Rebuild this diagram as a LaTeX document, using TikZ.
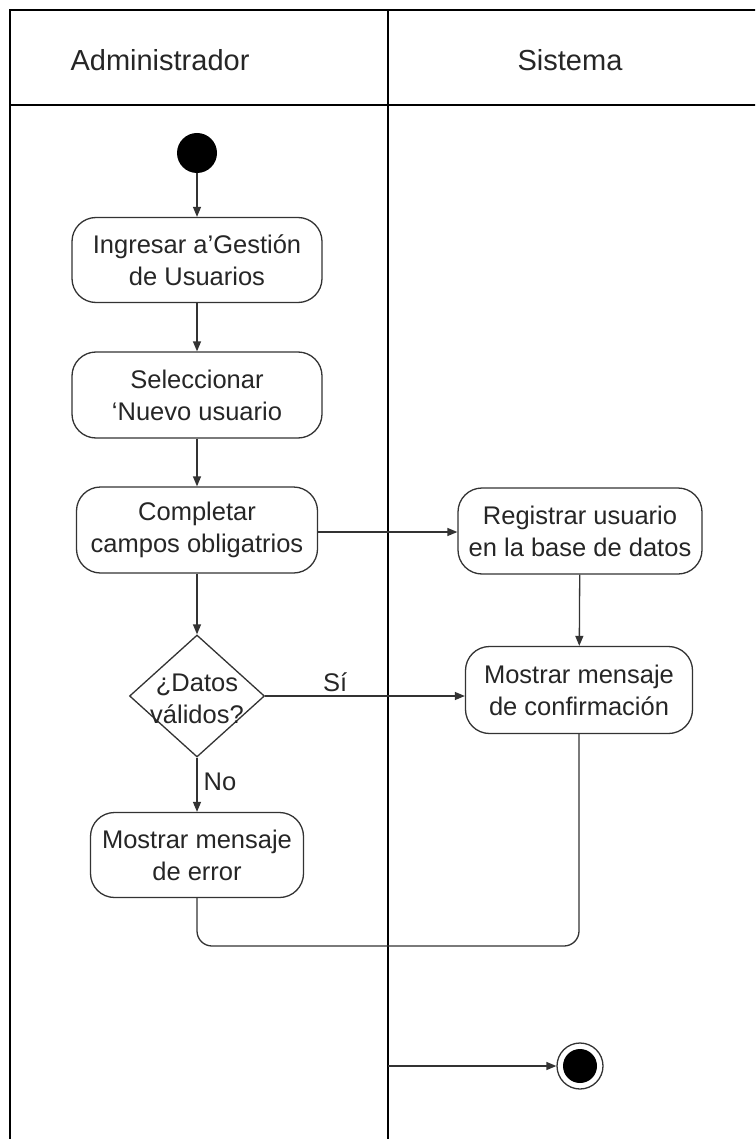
\documentclass[tikz,border=0pt]{standalone}
\usepackage{fontspec}
\setmainfont{Liberation Sans}
\usetikzlibrary{arrows.meta,shapes.geometric}
\definecolor{ln}{HTML}{333333}
\begin{document}
\begin{tikzpicture}[x=1pt,y=-1pt,
  act/.style={draw=ln,line width=1.3pt,rounded corners=24pt,align=center,inner sep=0pt,
    font=\fontsize{25.5}{32}\selectfont,text=black!85},
  lbl/.style={font=\fontsize{25.5}{32}\selectfont,text=black!85,align=center,inner sep=0pt},
  hdr/.style={font=\fontsize{29}{34}\selectfont,text=black!85},
  flow/.style={draw=ln,line width=1.3pt,-{Triangle[length=10pt,width=8pt]}},
  lane/.style={draw=black,line width=1.6pt}]
\useasboundingbox (0,0) rectangle (755,1139);
\fill[white] (0,0) rectangle (755,1139);
\begin{scope}
\clip (0,0) rectangle (755,1139);
\draw[lane] (10,1160) -- (10,10) -- (770,10);
\draw[lane] (10,105) -- (770,105);
\draw[lane] (388,10) -- (388,1160);
\end{scope}
\node[hdr] (h1) at (160,60) {Administrador};
\node[hdr] (h2) at (570,60) {Sistema};
% nodes
\node[circle,fill=black,minimum size=40pt,inner sep=0pt] (start) at (197,153) {};
\node[act,minimum width=250pt,minimum height=85pt] (b1) at (197,260) {Ingresar a'Gestión\\de Usuarios};
\node[act,minimum width=250pt,minimum height=86pt] (b2) at (197,395) {Seleccionar\\`Nuevo usuario};
\node[act,minimum width=241pt,minimum height=86pt] (b3) at (197,530) {Completar\\campos obligatrios};
\node[act,minimum width=244pt,minimum height=86pt] (b4) at (580,531) {Registrar usuario\\en la base de datos};
\node[diamond,draw=ln,line width=1.3pt,minimum width=135pt,minimum height=122pt,inner sep=0pt] (d) at (197,696) {};
\node[lbl] (dt) at (197,699) {¿Datos\\válidos?};
\node[act,minimum width=227pt,minimum height=87pt] (b5) at (579,690) {Mostrar mensaje\\de confirmación};
\node[act,minimum width=213pt,minimum height=85pt] (b6) at (197,855) {Mostrar mensaje\\de error};
\node[circle,draw=ln,line width=1.3pt,minimum size=46pt,inner sep=0pt] (end) at (580,1066) {};
\node[circle,fill=black,minimum size=34pt,inner sep=0pt] (endin) at (580,1066) {};
\coordinate (m) at (388,1066);
% connectors
\draw[flow] (start) -- (b1);
\draw[flow] (b1) -- (b2);
\draw[flow] (b2) -- (b3);
\draw[flow] (b3.east |- 0,532) -- (b4.west |- 0,532);
\draw[flow] (b3) -- (d);
\draw[flow] (b4) -- (b5);
\draw[flow] (d.east) -- (b5.west |- d.east) node[lbl,pos=0.35,above=4pt] (si) {Sí};
\draw[flow] (d) -- (b6) node[lbl,pos=0.45,right=6pt] (no) {No};
\draw[draw=ln,line width=1.3pt,rounded corners=15pt] (b6.south) -- (197,946) -- (b5.south |- 0,946) -- (b5.south);
\draw[flow] (m) -- (end);
\end{tikzpicture}
\end{document}
